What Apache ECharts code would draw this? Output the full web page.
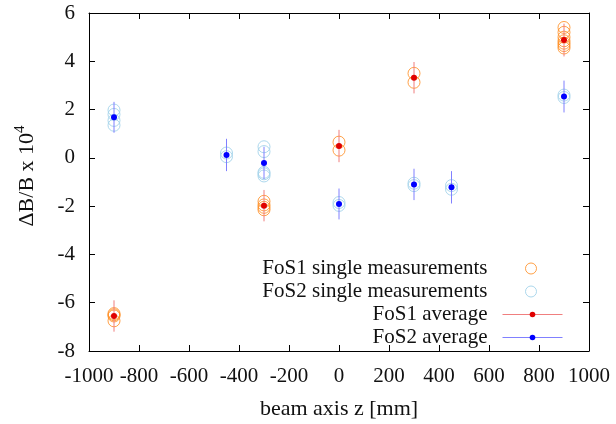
<!DOCTYPE html>
<html>
<head>
<meta charset="utf-8">
<script src="https://cdn.jsdelivr.net/npm/echarts@6/dist/echarts.min.js"></script>
<style>
  html, body { margin: 0; padding: 0; background: #fff; }
  #main { width: 616px; height: 424px; }
</style>
</head>
<body>
<div id="main"></div>
<script>
// single measurements, FoS1
var fos1SingleZ = [-900, -900, -900, -900, -300, -300, -300, -300, 0, 0, 300, 300, 900, 900, 900, 900, 900, 900, 900];
var fos1SingleVal = [-6.45, -6.5, -6.55, -6.75, -1.8, -1.95, -2.05, -2.15, 0.65, 0.32, 3.5, 3.13, 5.4, 5.2, 5.0, 4.85, 4.75, 4.65, 4.55];
// single measurements, FoS2
var fos2SingleZ = [-900, -900, -900, -900, -450, -450, -300, -300, -300, -300, -300, 0, 0, 300, 300, 450, 450, 900, 900];
var fos2SingleVal = [1.35, 1.55, 1.8, 1.98, 0.05, 0.2, 0.46, 0.26, -0.6, -0.66, -0.75, -1.85, -1.97, -1.05, -1.15, -1.15, -1.3, 2.5, 2.6];

// averages with error bars
var fos1Z = [-900, -300, 0, 300, 900];
var fos1Avg = [-6.55, -1.98, 0.49, 3.32, 4.88];
var fos1Err = [0.65, 0.65, 0.67, 0.65, 0.68];

var fos2Z = [-900, -450, -300, 0, 300, 450, 900];
var fos2Avg = [1.68, 0.12, -0.21, -1.91, -1.1, -1.22, 2.54];
var fos2Err = [0.64, 0.67, 0.67, 0.64, 0.65, 0.67, 0.66];

var names = ['FoS1 single measurements', 'FoS2 single measurements', 'FoS1 average', 'FoS2 average'];

var font = 'Liberation Serif';
var fs = 21;
var ink = '#111';

function pairs(xs, ys) {
  return xs.map(function (x, i) { return [x, ys[i]]; });
}
function triples(xs, ys, es) {
  return xs.map(function (x, i) { return [x, ys[i], es[i]]; });
}

function errorBar(color) {
  return function (params, api) {
    var lo = api.coord([api.value(0), api.value(1) - api.value(2)]);
    var hi = api.coord([api.value(0), api.value(1) + api.value(2)]);
    return {
      type: 'line',
      shape: { x1: lo[0], y1: lo[1], x2: hi[0], y2: hi[1] },
      style: { stroke: color, lineWidth: 1 }
    };
  };
}

function tickStyle() {
  return { show: true, inside: true, length: 6, lineStyle: { color: '#000', width: 1 } };
}
function axisLine() {
  return { show: true, onZero: false, lineStyle: { color: '#000', width: 1 } };
}
function tickLabel(margin) {
  return {
    show: true,
    margin: margin,
    fontFamily: font, fontSize: fs, color: ink,
    formatter: function (v) { return String(v); }
  };
}

function legendBox(name, top, w, h, right, pad, extra) {
  var l = {
    data: [name],
    orient: 'vertical',
    align: 'right',
    right: right,
    top: top,
    padding: 0,
    itemWidth: w,
    itemHeight: h,
    selectedMode: false,
    textStyle: { fontFamily: font, fontSize: fs, color: ink, padding: [0, pad, 0, 0] }
  };
  for (var k in extra) l[k] = extra[k];
  return l;
}

var chart = echarts.init(document.getElementById('main'));
chart.setOption({
  animation: false,
  backgroundColor: '#fff',
  textStyle: { fontFamily: font, fontSize: fs, color: ink },
  grid: { left: 89, right: 27, top: 13, bottom: 73, outerBoundsMode: 'none' },
  legend: [
    legendBox(names[0], 258, 11, 11, 79, 33, { itemStyle: { borderWidth: 1 } }),
    legendBox(names[1], 281, 11, 11, 79, 33, { itemStyle: { borderWidth: 1 } }),
    legendBox(names[2], 304, 60, 7, 53, 10, { lineStyle: { color: '#f07f7f', opacity: 1, width: 1 } }),
    legendBox(names[3], 327, 60, 7, 53, 10, { lineStyle: { color: '#8080ff', opacity: 1, width: 1 } })
  ],
  xAxis: [{
    type: 'value', position: 'bottom', min: -1000, max: 1000, interval: 200,
    axisLine: axisLine(), axisTick: tickStyle(), splitLine: { show: false },
    axisLabel: tickLabel(15),
    name: 'beam axis z [mm]', nameLocation: 'middle', nameGap: 47,
    nameTextStyle: { fontFamily: font, fontSize: 22, color: ink }
  }, {
    type: 'value', position: 'top', min: -1000, max: 1000, interval: 200,
    axisLine: axisLine(), axisTick: tickStyle(), splitLine: { show: false },
    axisLabel: { show: false }
  }],
  yAxis: [{
    type: 'value', position: 'left', min: -8, max: 6, interval: 2,
    axisLine: axisLine(), axisTick: tickStyle(), splitLine: { show: false },
    axisLabel: tickLabel(14),
    name: '{a|ΔB/B x 10}{s|4}', nameLocation: 'middle', nameGap: 48, nameRotate: 90,
    nameTextStyle: {
      fontFamily: font, fontSize: 22, color: ink, padding: [0, 0, 0, 12],
      rich: {
        a: { fontFamily: font, fontSize: 22, color: ink },
        s: { fontFamily: font, fontSize: 15, color: ink, padding: [0, 0, 13, 0] }
      }
    }
  }, {
    type: 'value', position: 'right', min: -8, max: 6, interval: 2,
    axisLine: axisLine(), axisTick: tickStyle(), splitLine: { show: false },
    axisLabel: { show: false }
  }],
  series: [{
    name: names[0],
    type: 'scatter',
    z: 2,
    symbol: 'circle',
    symbolSize: 12,
    itemStyle: { color: 'rgba(0,0,0,0)', borderColor: '#ff8a1a', borderWidth: 1, opacity: 0.8 },
    data: pairs(fos1SingleZ, fos1SingleVal)
  }, {
    name: names[1],
    type: 'scatter',
    z: 2,
    symbol: 'circle',
    symbolSize: 12,
    itemStyle: { color: 'rgba(0,0,0,0)', borderColor: '#a3d3ea', borderWidth: 1, opacity: 0.9 },
    data: pairs(fos2SingleZ, fos2SingleVal)
  }, {
    name: 'fos1 err',
    type: 'custom',
    z: 3,
    renderItem: errorBar('#f07f7f'),
    encode: { x: 0, y: 1 },
    data: triples(fos1Z, fos1Avg, fos1Err)
  }, {
    name: 'fos2 err',
    type: 'custom',
    z: 3,
    renderItem: errorBar('#8080ff'),
    encode: { x: 0, y: 1 },
    data: triples(fos2Z, fos2Avg, fos2Err)
  }, {
    name: names[2],
    type: 'line',
    z: 4,
    symbol: 'circle',
    symbolSize: 6,
    showSymbol: true,
    itemStyle: { color: '#e00000' },
    lineStyle: { opacity: 0 },
    data: pairs(fos1Z, fos1Avg)
  }, {
    name: names[3],
    type: 'line',
    z: 4,
    symbol: 'circle',
    symbolSize: 6,
    showSymbol: true,
    itemStyle: { color: '#0000ff' },
    lineStyle: { opacity: 0 },
    data: pairs(fos2Z, fos2Avg)
  }]
});
</script>
</body>
</html>
